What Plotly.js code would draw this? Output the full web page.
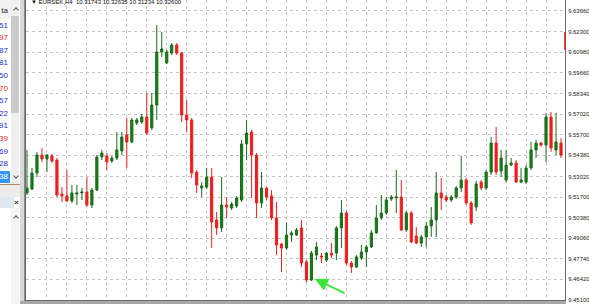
<!DOCTYPE html>
<html><head><meta charset="utf-8">
<script src="https://cdn.plot.ly/plotly-3.0.1.min.js"></script>
<style>
html,body{margin:0;padding:0;width:589px;height:304px;overflow:hidden;background:#fff;font-family:'Liberation Sans',Arial,sans-serif}
#chart{position:absolute;left:0;top:0;width:589px;height:304px}
#panel{position:absolute;left:0;top:0;width:25px;height:304px;overflow:hidden}
#bottombar{position:absolute;left:20px;top:301px;width:546px;height:3px;background:#a8a8a8}
</style></head><body>
<div id="chart"></div>
<div id="panel"></div>
<div id="bottombar"></div>
<script>
// ---- data (EURSEK, H4) ----
const openP = [9.5196,9.5222,9.5324,9.5439,9.5414,9.5433,9.5407,9.5189,9.5177,9.5145,9.5189,9.5196,9.5202,9.5119,9.5215,9.5427,9.5433,9.5401,9.5420,9.5465,
9.5568,9.5523,9.5645,9.5651,9.5683,9.5613,9.5760,9.6100,9.6029,9.6093,9.6145,9.6093,9.5696,9.5664,9.5330,9.5228,9.5234,9.5298,9.5023,9.4972,
9.5119,9.5100,9.5113,9.5151,9.5510,9.5587,9.5439,9.5132,9.5228,9.5177,9.5036,9.4869,9.4843,9.4927,9.4927,9.4972,9.4754,9.4638,9.4798,9.4792,
9.4766,9.4811,9.4811,9.4972,9.5068,9.4747,9.4722,9.4779,9.4818,9.4850,9.4940,9.5036,9.5068,9.5157,9.5164,9.5170,9.4959,9.5068,9.4920,9.4875,
9.4914,9.4984,9.5023,9.5196,9.5170,9.5151,9.5170,9.5228,9.5279,9.5132,9.5106,9.5266,9.5228,9.5330,9.5516,9.5337,9.5279,9.5375,9.5388,9.5266,
9.5266,9.5356,9.5472,9.5516,9.5504,9.5683,9.5472,9.5516];
const highP = [9.5472,9.5356,9.5459,9.5484,9.5446,9.5446,9.5420,9.5234,9.5343,9.5247,9.5247,9.5228,9.5298,9.5228,9.5439,9.5472,9.5452,9.5433,9.5587,9.5587,
9.5677,9.5677,9.5677,9.5702,9.5837,9.5837,9.6273,9.6228,9.6113,9.6157,9.6157,9.6100,9.5792,9.5677,9.5343,9.5266,9.5356,9.5356,9.5074,9.5298,
9.5170,9.5138,9.5177,9.5536,9.5664,9.5600,9.5452,9.5330,9.5234,9.5215,9.5138,9.4875,9.5004,9.4952,9.4972,9.5023,9.4766,9.4824,9.4882,9.4811,
9.4818,9.4875,9.4984,9.5151,9.5081,9.4760,9.4798,9.4863,9.4863,9.4959,9.5119,9.5183,9.5170,9.5183,9.5343,9.5279,9.5081,9.5081,9.4978,9.4927,
9.5010,9.5106,9.5330,9.5292,9.5183,9.5183,9.5241,9.5433,9.5292,9.5145,9.5273,9.5279,9.5343,9.5555,9.5619,9.5472,9.5472,9.5420,9.5407,9.5356,
9.5375,9.5523,9.5536,9.5523,9.5709,9.5715,9.5709,9.5548];
const lowP = [9.5183,9.5215,9.5298,9.5395,9.5330,9.5388,9.5170,9.5138,9.5138,9.5132,9.5119,9.5151,9.5106,9.5100,9.5209,9.5407,9.5343,9.5388,9.5407,9.5439,
9.5356,9.5516,9.5632,9.5638,9.5568,9.5600,9.5664,9.6068,9.6023,9.6080,9.6080,9.5651,9.5587,9.5292,9.5196,9.5170,9.5222,9.4843,9.4927,9.4946,
9.5036,9.5087,9.5100,9.5138,9.5407,9.5164,9.5036,9.5100,9.5151,9.5023,9.4798,9.4690,9.4831,9.4882,9.4920,9.4722,9.4625,9.4632,9.4766,9.4747,
9.4754,9.4779,9.4766,9.4843,9.4734,9.4683,9.4715,9.4766,9.4722,9.4843,9.4935,9.5023,9.5055,9.5145,9.5068,9.4952,9.4946,9.4875,9.4869,9.4850,
9.4850,9.4914,9.4914,9.5087,9.5138,9.5138,9.5157,9.5202,9.5119,9.4991,9.5081,9.5215,9.5215,9.5311,9.5311,9.5298,9.5266,9.5369,9.5260,9.5260,
9.5254,9.5343,9.5420,9.5491,9.5395,9.5459,9.5439,9.5420];
const closeP = [9.5228,9.5324,9.5439,9.5414,9.5439,9.5401,9.5183,9.5177,9.5145,9.5196,9.5196,9.5202,9.5119,9.5215,9.5427,9.5452,9.5395,9.5420,9.5472,9.5555,
9.5523,9.5664,9.5664,9.5683,9.5580,9.5760,9.6100,9.6119,9.6100,9.6145,9.6093,9.5696,9.5664,9.5324,9.5247,9.5241,9.5298,9.5010,9.4972,9.5119,
9.5106,9.5125,9.5164,9.5510,9.5580,9.5439,9.5132,9.5228,9.5170,9.5036,9.4863,9.4843,9.4927,9.4940,9.4959,9.4747,9.4638,9.4811,9.4850,9.4786,
9.4811,9.4798,9.4972,9.5068,9.4747,9.4722,9.4786,9.4818,9.4850,9.4940,9.5036,9.5068,9.5151,9.5170,9.5170,9.4959,9.5068,9.4882,9.4875,9.4914,
9.4984,9.5023,9.5196,9.5164,9.5151,9.5170,9.5228,9.5279,9.5132,9.5004,9.5254,9.5228,9.5330,9.5516,9.5330,9.5420,9.5375,9.5388,9.5266,9.5279,
9.5356,9.5472,9.5516,9.5504,9.5683,9.5484,9.5523,9.5439];
const priceTicks = [9.45100,9.46420,9.47740,9.49060,9.50380,9.51700,9.53020,9.54380,9.55700,9.57020,9.58340,9.59660,9.60980,9.62300,9.63660];
const priceTickLabels = ['9.45100','9.46420','9.47740','9.49060','9.50380','9.51700','9.53020','9.54380','9.55700','9.57020','9.58340','9.59660','9.60980','9.62300','9.63660'];
const symbolName = 'EURSEK,H4';
const headerQuotes = ['10.31743','10.32635','10.31234','10.32600'];
const watchDigits = ['51','97','87','81','50','70','57','22','91','39','69','28','38'];
const watchState = ['up','down','up','up','up','down','up','up','up','down','up','up','sel'];
const watchHeader = 'ta';

// ---- chart ----
const barIndex = openP.map((_, i) => i);
const gridIdx = barIndex.filter(i => i % 4 === 0);
let minI = 0; lowP.forEach((v, i) => { if (v < lowP[minI]) minI = i; });

const trace = {
  type: 'candlestick', x: barIndex, open: openP, high: highP, low: lowP, close: closeP,
  increasing: {line: {color: '#1d6b1d', width: 1}, fillcolor: '#0b800b'},
  decreasing: {line: {color: '#ee2020', width: 1}, fillcolor: '#ee1c1c'},
  whiskerwidth: 0, hoverinfo: 'skip', showlegend: false
};
const layout = {
  width: 589, height: 304,
  margin: {l: 26, r: 24, t: 0, b: 4, pad: 0},
  paper_bgcolor: '#ffffff', plot_bgcolor: '#ffffff',
  boxgap: 0.38,
  xaxis: {type: 'linear', range: [-0.2, 107.8], rangeslider: {visible: false},
    tickvals: gridIdx, showticklabels: false, ticks: '', showgrid: true,
    gridcolor: '#c6c6c6', griddash: 'dot', gridwidth: 1, zeroline: false,
    showline: true, linecolor: '#6a6a6a', linewidth: 1},
  yaxis: {side: 'right', range: [9.4510, 9.6433], tickvals: priceTicks, ticktext: priceTickLabels,
    showgrid: true, gridcolor: '#c6c6c6', griddash: 'dot', gridwidth: 1, zeroline: false,
    showline: true, mirror: true, linecolor: '#6a6a6a', linewidth: 1,
    ticks: '', ticklabelstandoff: 1,
    tickfont: {family: 'Liberation Sans, Arial, sans-serif', size: 5.9, color: '#222'}},
  shapes: [{type: 'line', xref: 'paper', yref: 'y', x0: 1, x1: 1, y0: 9.6113, y1: 9.6228,
    line: {color: '#e01818', width: 1.5}}],
  annotations: [
    {xref: 'paper', yref: 'paper', x: 0, y: 1, xanchor: 'left', yanchor: 'middle', xshift: 3, yshift: -2,
     showarrow: false, align: 'left',
     text: '\u25BC ' + symbolName + '  ' + headerQuotes.join(' '),
     font: {family: 'Liberation Sans, Arial, sans-serif', size: 6, color: '#111'}},
    {x: minI + 1.7, y: lowP[minI] + 0.002, xref: 'x', yref: 'y', ax: 31, ay: 15, text: '',
     showarrow: true, arrowhead: 2, arrowsize: 1.3, arrowwidth: 2, arrowcolor: '#3de43d'}
  ]
};
Plotly.newPlot('chart', [trace], layout, {staticPlot: true, displayModeBar: false});

// ---- left Market Watch panel ----
const panel = document.getElementById('panel');
function el(css, text) {
  const d = document.createElement('div');
  d.style.cssText = 'position:absolute;' + css;
  if (text !== undefined) d.textContent = text;
  panel.appendChild(d); return d;
}
function chevron(x, y, up) {
  el('left:' + x + 'px;top:' + y + 'px;width:3px;height:3px;border-left:1.3px solid #555;border-top:1.3px solid #555;transform:rotate(' + (up ? 45 : 225) + 'deg)');
}
el('left:0;top:0;width:20px;height:304px;background:#fff');
el('left:0;top:0;width:11px;height:19px;background:#f2f2f2');
el('left:0;top:6px;width:8px;text-align:right;font-size:8px;line-height:10px;color:#222;white-space:nowrap', watchHeader);
el('left:11px;top:0;width:8px;height:184px;background:#efefef');
el('left:11px;top:16px;width:8px;height:97px;background:#cbcbcb');
chevron(13.5, 8, true);
chevron(13.5, 174, false);
watchDigits.forEach((t, i) => {
  const top = 19 + i * 12.6;
  const st = watchState[i];
  if (st === 'sel') el('left:0;top:' + (top + 0.5) + 'px;width:10px;height:12px;background:#3399ff');
  const col = st === 'sel' ? '#ffffff' : (st === 'down' ? '#ee2a2a' : '#2b2bd8');
  el('left:-3px;top:' + (top + 1.5) + 'px;width:11px;text-align:right;font-size:8px;line-height:10px;color:' + col + ';white-space:nowrap', t);
});
el('left:0;top:184px;width:20px;height:1px;background:#b08a60');
el('left:0;top:185px;width:20px;height:12px;background:#ececec');
el('left:0;top:197px;width:14px;height:11px;background:#dfe7f1');
el('left:14px;top:198px;width:7px;font-size:8px;font-weight:bold;line-height:9px;color:#333', '\u00D7');
el('left:0;top:208px;width:20px;height:96px;background:#ffffff');
el('left:11px;top:208px;width:8px;height:96px;background:#f5f5f5');
chevron(13.5, 216, true);
el('left:20px;top:0;width:4px;height:304px;background:#d9d9d9');
el('left:24px;top:0;width:1px;height:304px;background:#8a8a8a');
</script>
</body></html>
